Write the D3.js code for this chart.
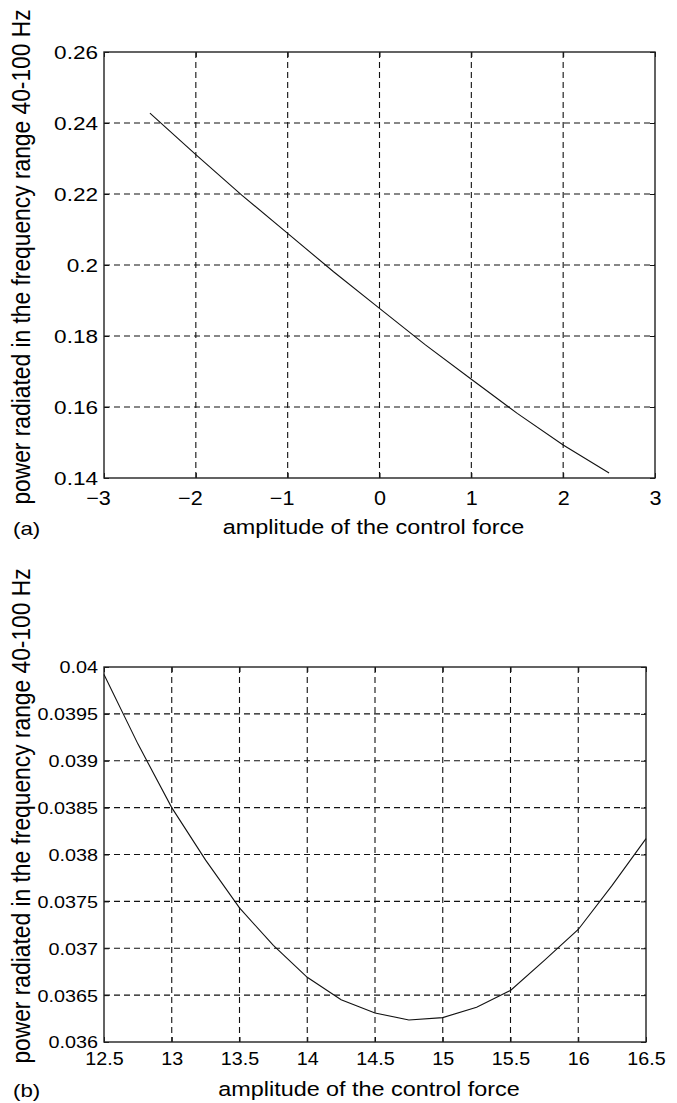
<!DOCTYPE html>
<html>
<head>
<meta charset="utf-8">
<script src="https://cdn.jsdelivr.net/npm/d3@7"></script>
<style>
    body { margin: 0; background: #fff; }
    text { font-family: "Liberation Sans", Arial, Helvetica, sans-serif; fill: #000; }
</style>
</head>
<body>
<script>
// panel (a) data
let ampA = [-2.5, -2, -1.5, -1, -0.5, 0, 0.5, 1, 1.5, 2, 2.5];
let powA = [0.2428, 0.2311, 0.2197, 0.2089, 0.1981, 0.1878, 0.1775, 0.1678, 0.1582, 0.1493, 0.1414];
let xTicksA = [-3, -2, -1, 0, 1, 2, 3];
let yTicksA = [0.14, 0.16, 0.18, 0.2, 0.22, 0.24, 0.26];

// panel (b) data
let ampB = [12.5, 12.75, 13, 13.25, 13.5, 13.75, 14, 14.25, 14.5, 14.75, 15, 15.25, 15.5, 15.75, 16, 16.25, 16.5];
let powB = [0.03992, 0.03918, 0.0385, 0.03794, 0.03743, 0.03703, 0.03669, 0.03645, 0.03631, 0.036235,
            0.03626, 0.03637, 0.03655, 0.03687, 0.0372, 0.03767, 0.03817];
let xTicksB = [12.5, 13, 13.5, 14, 14.5, 15, 15.5, 16, 16.5];
let yTicksB = [0.036, 0.0365, 0.037, 0.0375, 0.038, 0.0385, 0.039, 0.0395, 0.04];

let xTitle = "amplitude of the control force";
let yTitle = "power radiated in the frequency range 40-100 Hz";

let svg = d3.select("body")
            .append("svg")
            .attr("width", 677)
            .attr("height", 1103);

let fmt = d3.format("~g");

drawPanel({
    xs: ampA, ys: powA, xTicks: xTicksA, yTicks: yTicksA,
    left: 104, right: 655, top: 52, bottom: 478,
    xFont: 20, xScale: 1.08, xBase: 27,
    yFont: 18.5, yScale: 1.22,
    yLabelCy: 257, xLabelY: 534, tag: "(a)"
});

drawPanel({
    xs: ampB, ys: powB, xTicks: xTicksB, yTicks: yTicksB,
    left: 104, right: 646, top: 667, bottom: 1042,
    xFont: 18.6, xScale: 1.06, xBase: 23,
    yFont: 16.5, yScale: 1.2,
    yLabelCy: 816, xLabelY: 1096, tag: "(b)"
});

// Draws one axes box with grid, ticks, curve and labels
function drawPanel(p) {
    let x = d3.scaleLinear()
              .domain(d3.extent(p.xTicks))
              .range([p.left, p.right]);
    let y = d3.scaleLinear()
              .domain(d3.extent(p.yTicks))
              .range([p.bottom, p.top]);

    let g = svg.append("g");

    // dashed grid
    g.append("g").selectAll("line")
        .data(p.xTicks.slice(1, -1))
        .enter().append("line")
        .attr("x1", d => x(d)).attr("x2", d => x(d))
        .attr("y1", p.top).attr("y2", p.bottom);
    g.append("g").selectAll("line")
        .data(p.yTicks.slice(1, -1))
        .enter().append("line")
        .attr("y1", d => y(d)).attr("y2", d => y(d))
        .attr("x1", p.left).attr("x2", p.right);
    g.selectAll("line")
        .attr("stroke", "#111")
        .attr("stroke-width", 1.1)
        .attr("stroke-dasharray", "6,4");

    // axes, ticks inward like matlab
    let bottomAxis = g.append("g")
        .attr("transform", `translate(0,${p.bottom})`)
        .call(d3.axisBottom(x).tickValues(p.xTicks).tickSize(-5).tickFormat(fmt));
    g.append("g")
        .attr("transform", `translate(0,${p.top})`)
        .call(d3.axisTop(x).tickValues(p.xTicks).tickSize(-5).tickFormat(""));
    let leftAxis = g.append("g")
        .attr("transform", `translate(${p.left},0)`)
        .call(d3.axisLeft(y).tickValues(p.yTicks).tickSize(-5).tickFormat(fmt));
    g.append("g")
        .attr("transform", `translate(${p.right},0)`)
        .call(d3.axisRight(y).tickValues(p.yTicks).tickSize(-5).tickFormat(""));

    g.selectAll(".domain").remove();
    g.selectAll(".tick line").attr("stroke", "#111");

    // negative labels sit a little left of their tick in the original
    bottomAxis.selectAll("text")
        .attr("x", d => d < 0 ? -6 / p.xScale : 0)
        .attr("y", p.xBase).attr("dy", 0)
        .attr("font-size", p.xFont)
        .attr("transform", `scale(${p.xScale},1)`);
    leftAxis.selectAll("text")
        .attr("x", -6 / p.yScale).attr("dy", "0.36em")
        .attr("font-size", p.yFont)
        .attr("transform", `scale(${p.yScale},1)`);
    g.selectAll(".tick text").attr("fill", "#000").attr("font-family", null);

    // box
    g.append("rect")
        .attr("x", p.left).attr("y", p.top)
        .attr("width", p.right - p.left).attr("height", p.bottom - p.top)
        .attr("fill", "none")
        .attr("stroke", "#222")
        .attr("stroke-width", 1.4);

    // curve
    let line = d3.line()
                 .x(i => x(p.xs[i]))
                 .y(i => y(p.ys[i]));
    g.append("path")
        .attr("d", line(d3.range(p.xs.length)))
        .attr("fill", "none")
        .attr("stroke", "#111")
        .attr("stroke-width", 1.1);

    // axis titles
    g.append("text")
        .attr("transform", `translate(${(p.left + p.right) / 2 - 6},${p.xLabelY}) scale(1.2,1)`)
        .attr("text-anchor", "middle")
        .attr("font-size", 19.5)
        .text(xTitle);
    g.append("text")
        .attr("transform", `translate(30,${p.yLabelCy}) rotate(-90) scale(1,1.12)`)
        .attr("text-anchor", "middle")
        .attr("font-size", 22.8)
        .text(yTitle);

    // panel tag
    g.append("text")
        .attr("transform", `translate(13,${p.xLabelY + 1}) scale(1.24,1)`)
        .attr("font-family", "'Liberation Serif', 'Times New Roman', serif")
        .attr("font-size", 18)
        .text(p.tag);
}
</script>
</body>
</html>
